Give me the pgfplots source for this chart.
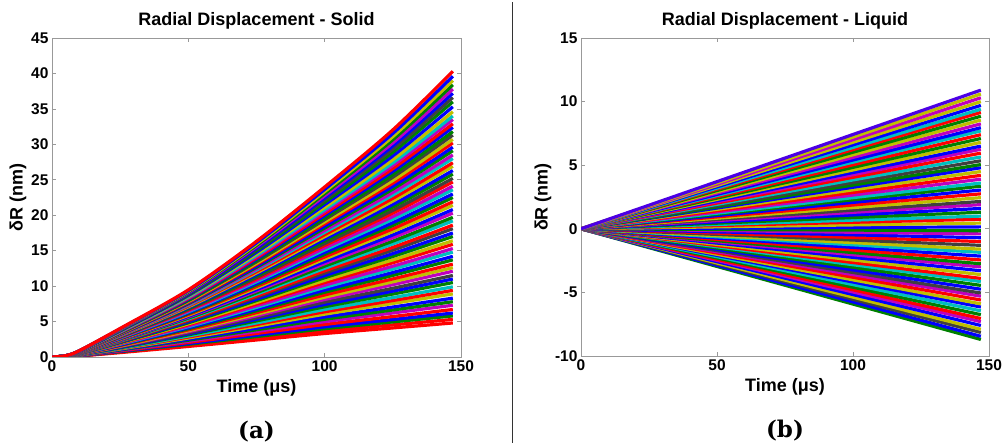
\documentclass[border=0pt]{standalone}
\usepackage{fontspec}
\usepackage{pgfplots}
\pgfplotsset{compat=1.18}
\newfontfamily\hv{Liberation Sans}
\newfontfamily\dvs{DejaVu Serif}
\definecolor{Mb}{rgb}{0,0,1}
\definecolor{Mg}{rgb}{0,0.5,0}
\definecolor{Mr}{rgb}{1,0,0}
\definecolor{Mc}{rgb}{0,0.75,0.75}
\definecolor{Mm}{rgb}{0.75,0,0.75}
\definecolor{My}{rgb}{0.75,0.75,0}
\definecolor{Mk}{rgb}{0.25,0.25,0.25}
\newcommand\panellabel[1]{{\dvs\bfseries\fontsize{23}{25}\selectfont#1}}
\pgfplotsset{
  mstyle/.style={
    scale only axis, anchor=south west,
    xmin=0, xmax=150, xtick={0,50,100,150},
    tick align=inside, major tick length=4pt,
    axis line style={gray!80}, tick style={gray!80, line width=0.6pt},
    ticklabel style={font=\hv\bfseries\fontsize{15.5}{16}\selectfont},
    /pgf/number format/assume math mode=true,
    label style={font=\hv\bfseries\fontsize{18}{20}\selectfont},
    xlabel style={at={(axis description cs:0.5,-0.097)}, anchor=center},
    every axis plot/.append style={line width=3.2pt, line join=round, no markers},
    clip mode=individual,
  }
}
\begin{document}
\begin{tikzpicture}[x=1pt,y=1pt]
\useasboundingbox (0,0) rectangle (1002,447);
% ---------------- Left panel ----------------
\begin{axis}[mstyle,
  at={(52pt,90pt)}, width=409pt, height=319pt,
  ymin=0, ymax=45, ytick={0,5,10,15,20,25,30,35,40,45},
  xlabel={Time (μs)}, ylabel={δR (nm)},
  ylabel style={at={(axis description cs:-0.083,0.5)}, anchor=center, rotate=0},
]
\addplot[Mr,smooth] coordinates {(0,0)(5,0.03)(10,0.14)(25,0.62)(50,1.49)(75,2.40)(100,3.31)(125,4.10)(147,4.8)};
\addplot[Mr,smooth] coordinates {(0,0)(5,0.03)(10,0.16)(25,0.69)(50,1.64)(75,2.64)(100,3.65)(125,4.53)(147,5.3)};
\addplot[Mg,smooth] coordinates {(0,0)(5,0.03)(10,0.17)(25,0.75)(50,1.79)(75,2.88)(100,3.99)(125,4.95)(147,5.8)};
\addplot[Mb,smooth] coordinates {(0,0)(5,0.04)(10,0.18)(25,0.80)(50,1.90)(75,3.08)(100,4.25)(125,5.29)(147,6.2)};
\addplot[Mr,smooth] coordinates {(0,0)(5,0.04)(10,0.20)(25,0.86)(50,2.05)(75,3.32)(100,4.59)(125,5.71)(147,6.7)};
\addplot[Mm,smooth] coordinates {(0,0)(5,0.04)(10,0.21)(25,0.93)(50,2.22)(75,3.60)(100,4.99)(125,6.21)(147,7.3)};
\addplot[Mg,smooth] coordinates {(0,0)(5,0.05)(10,0.23)(25,0.99)(50,2.37)(75,3.84)(100,5.32)(125,6.63)(147,7.8)};
\addplot[Mb,smooth] coordinates {(0,0)(5,0.05)(10,0.24)(25,1.05)(50,2.51)(75,4.07)(100,5.65)(125,7.05)(147,8.3)};
\addplot[My,smooth] coordinates {(0,0)(5,0.05)(10,0.26)(25,1.13)(50,2.68)(75,4.35)(100,6.04)(125,7.55)(147,8.9)};
\addplot[Mr,smooth] coordinates {(0,0)(5,0.05)(10,0.27)(25,1.19)(50,2.82)(75,4.58)(100,6.37)(125,7.96)(147,9.4)};
\addplot[Mc,smooth] coordinates {(0,0)(5,0.06)(10,0.29)(25,1.24)(50,2.96)(75,4.81)(100,6.70)(125,8.38)(147,9.9)};
\addplot[Mg,smooth] coordinates {(0,0)(5,0.06)(10,0.30)(25,1.31)(50,3.13)(75,5.09)(100,7.08)(125,8.88)(147,10.5)};
\addplot[Mb,smooth] coordinates {(0,0)(5,0.06)(10,0.31)(25,1.37)(50,3.27)(75,5.32)(100,7.41)(125,9.29)(147,11.0)};
\addplot[Mk,smooth] coordinates {(0,0)(5,0.07)(10,0.33)(25,1.43)(50,3.40)(75,5.54)(100,7.73)(125,9.70)(147,11.5)};
\addplot[Mm,smooth] coordinates {(0,0)(5,0.07)(10,0.34)(25,1.50)(50,3.56)(75,5.81)(100,8.11)(125,10.20)(147,12.1)};
\addplot[My,smooth] coordinates {(0,0)(5,0.07)(10,0.36)(25,1.55)(50,3.70)(75,6.04)(100,8.43)(125,10.61)(147,12.6)};
\addplot[Mr,smooth] coordinates {(0,0)(5,0.07)(10,0.37)(25,1.61)(50,3.83)(75,6.26)(100,8.75)(125,11.02)(147,13.1)};
\addplot[Mg,smooth] coordinates {(0,0)(5,0.08)(10,0.38)(25,1.68)(50,3.99)(75,6.52)(100,9.13)(125,11.51)(147,13.7)};
\addplot[Mb,smooth] coordinates {(0,0)(5,0.08)(10,0.40)(25,1.73)(50,4.12)(75,6.74)(100,9.44)(125,11.92)(147,14.2)};
\addplot[Mc,smooth] coordinates {(0,0)(5,0.08)(10,0.41)(25,1.80)(50,4.28)(75,7.00)(100,9.82)(125,12.40)(147,14.8)};
\addplot[Mm,smooth] coordinates {(0,0)(5,0.08)(10,0.42)(25,1.85)(50,4.40)(75,7.22)(100,10.13)(125,12.81)(147,15.3)};
\addplot[Mr,smooth] coordinates {(0,0)(5,0.09)(10,0.44)(25,1.92)(50,4.56)(75,7.48)(100,10.50)(125,13.30)(147,15.9)};
\addplot[My,smooth] coordinates {(0,0)(5,0.09)(10,0.45)(25,1.97)(50,4.68)(75,7.69)(100,10.81)(125,13.70)(147,16.4)};
\addplot[Mg,smooth] coordinates {(0,0)(5,0.09)(10,0.46)(25,2.03)(50,4.83)(75,7.95)(100,11.18)(125,14.18)(147,17.0)};
\addplot[Mb,smooth] coordinates {(0,0)(5,0.09)(10,0.47)(25,2.09)(50,4.96)(75,8.16)(100,11.48)(125,14.59)(147,17.5)};
\addplot[Mk,smooth] coordinates {(0,0)(5,0.10)(10,0.49)(25,2.15)(50,5.10)(75,8.41)(100,11.84)(125,15.07)(147,18.1)};
\addplot[Mr,smooth] coordinates {(0,0)(5,0.10)(10,0.50)(25,2.20)(50,5.22)(75,8.61)(100,12.15)(125,15.47)(147,18.6)};
\addplot[Mc,smooth] coordinates {(0,0)(5,0.10)(10,0.51)(25,2.26)(50,5.37)(75,8.86)(100,12.51)(125,15.95)(147,19.2)};
\addplot[Mg,smooth] coordinates {(0,0)(5,0.10)(10,0.52)(25,2.31)(50,5.49)(75,9.06)(100,12.81)(125,16.35)(147,19.7)};
\addplot[Mm,smooth] coordinates {(0,0)(5,0.11)(10,0.54)(25,2.37)(50,5.63)(75,9.31)(100,13.17)(125,16.82)(147,20.3)};
\addplot[Mb,smooth] coordinates {(0,0)(5,0.11)(10,0.55)(25,2.42)(50,5.74)(75,9.51)(100,13.46)(125,17.22)(147,20.8)};
\addplot[My,smooth] coordinates {(0,0)(5,0.11)(10,0.56)(25,2.48)(50,5.88)(75,9.75)(100,13.82)(125,17.70)(147,21.4)};
\addplot[Mr,smooth] coordinates {(0,0)(5,0.11)(10,0.57)(25,2.53)(50,6.00)(75,9.95)(100,14.11)(125,18.09)(147,21.9)};
\addplot[Mg,smooth] coordinates {(0,0)(5,0.12)(10,0.59)(25,2.59)(50,6.13)(75,10.18)(100,14.46)(125,18.56)(147,22.5)};
\addplot[Mb,smooth] coordinates {(0,0)(5,0.12)(10,0.60)(25,2.64)(50,6.25)(75,10.38)(100,14.75)(125,18.96)(147,23.0)};
\addplot[Mc,smooth] coordinates {(0,0)(5,0.12)(10,0.61)(25,2.69)(50,6.38)(75,10.61)(100,15.10)(125,19.43)(147,23.6)};
\addplot[Mm,smooth] coordinates {(0,0)(5,0.12)(10,0.62)(25,2.74)(50,6.49)(75,10.81)(100,15.38)(125,19.82)(147,24.1)};
\addplot[Mr,smooth] coordinates {(0,0)(5,0.13)(10,0.63)(25,2.80)(50,6.62)(75,11.03)(100,15.73)(125,20.29)(147,24.7)};
\addplot[Mk,smooth] coordinates {(0,0)(5,0.13)(10,0.64)(25,2.84)(50,6.73)(75,11.22)(100,16.01)(125,20.68)(147,25.2)};
\addplot[Mg,smooth] coordinates {(0,0)(5,0.13)(10,0.65)(25,2.90)(50,6.85)(75,11.45)(100,16.35)(125,21.14)(147,25.8)};
\addplot[Mb,smooth] coordinates {(0,0)(5,0.13)(10,0.66)(25,2.94)(50,6.96)(75,11.64)(100,16.63)(125,21.53)(147,26.3)};
\addplot[My,smooth] coordinates {(0,0)(5,0.13)(10,0.67)(25,2.99)(50,7.08)(75,11.86)(100,16.97)(125,21.99)(147,26.9)};
\addplot[Mr,smooth] coordinates {(0,0)(5,0.14)(10,0.68)(25,3.04)(50,7.19)(75,12.04)(100,17.25)(125,22.38)(147,27.4)};
\addplot[Mc,smooth] coordinates {(0,0)(5,0.14)(10,0.69)(25,3.09)(50,7.31)(75,12.26)(100,17.58)(125,22.84)(147,28.0)};
\addplot[Mm,smooth] coordinates {(0,0)(5,0.14)(10,0.70)(25,3.13)(50,7.41)(75,12.44)(100,17.86)(125,23.23)(147,28.5)};
\addplot[Mg,smooth] coordinates {(0,0)(5,0.14)(10,0.71)(25,3.19)(50,7.53)(75,12.66)(100,18.19)(125,23.69)(147,29.1)};
\addplot[Mb,smooth] coordinates {(0,0)(5,0.14)(10,0.72)(25,3.23)(50,7.63)(75,12.84)(100,18.46)(125,24.07)(147,29.6)};
\addplot[Mr,smooth] coordinates {(0,0)(5,0.15)(10,0.73)(25,3.28)(50,7.74)(75,13.05)(100,18.79)(125,24.52)(147,30.2)};
\addplot[My,smooth] coordinates {(0,0)(5,0.15)(10,0.74)(25,3.32)(50,7.84)(75,13.22)(100,19.06)(125,24.90)(147,30.7)};
\addplot[Mk,smooth] coordinates {(0,0)(5,0.15)(10,0.75)(25,3.37)(50,7.95)(75,13.43)(100,19.38)(125,25.36)(147,31.3)};
\addplot[Mg,smooth] coordinates {(0,0)(5,0.15)(10,0.76)(25,3.41)(50,8.04)(75,13.60)(100,19.64)(125,25.74)(147,31.8)};
\addplot[Mb,smooth] coordinates {(0,0)(5,0.15)(10,0.77)(25,3.46)(50,8.15)(75,13.81)(100,19.96)(125,26.19)(147,32.4)};
\addplot[Mr,smooth] coordinates {(0,0)(5,0.16)(10,0.78)(25,3.50)(50,8.25)(75,13.98)(100,20.23)(125,26.57)(147,32.9)};
\addplot[Mm,smooth] coordinates {(0,0)(5,0.16)(10,0.79)(25,3.54)(50,8.35)(75,14.18)(100,20.54)(125,27.02)(147,33.5)};
\addplot[Mc,smooth] coordinates {(0,0)(5,0.16)(10,0.80)(25,3.58)(50,8.44)(75,14.34)(100,20.80)(125,27.39)(147,34.0)};
\addplot[My,smooth] coordinates {(0,0)(5,0.16)(10,0.81)(25,3.63)(50,8.55)(75,14.54)(100,21.11)(125,27.84)(147,34.6)};
\addplot[Mb,smooth] coordinates {(0,0)(5,0.16)(10,0.82)(25,3.68)(50,8.67)(75,14.77)(100,21.48)(125,28.36)(147,35.3)};
\addplot[Mg,smooth] coordinates {(0,0)(5,0.17)(10,0.83)(25,3.73)(50,8.79)(75,14.99)(100,21.83)(125,28.88)(147,36.0)};
\addplot[Mk,smooth] coordinates {(0,0)(5,0.17)(10,0.84)(25,3.77)(50,8.89)(75,15.19)(100,22.14)(125,29.33)(147,36.6)};
\addplot[Mb,smooth] coordinates {(0,0)(5,0.17)(10,0.84)(25,3.82)(50,8.99)(75,15.37)(100,22.44)(125,29.77)(147,37.2)};
\addplot[Mm,smooth] coordinates {(0,0)(5,0.17)(10,0.85)(25,3.86)(50,9.08)(75,15.56)(100,22.74)(125,30.21)(147,37.8)};
\addplot[Mg,smooth] coordinates {(0,0)(5,0.17)(10,0.86)(25,3.90)(50,9.18)(75,15.75)(100,23.04)(125,30.65)(147,38.4)};
\addplot[My,smooth] coordinates {(0,0)(5,0.17)(10,0.87)(25,3.94)(50,9.27)(75,15.93)(100,23.34)(125,31.09)(147,39.0)};
\addplot[Mb,smooth] coordinates {(0,0)(5,0.18)(10,0.88)(25,3.98)(50,9.36)(75,16.11)(100,23.64)(125,31.53)(147,39.6)};
\addplot[Mr,smooth] coordinates {(0,0)(5,0.18)(10,0.89)(25,4.03)(50,9.47)(75,16.32)(100,23.98)(125,32.04)(147,40.3)};
\node[font=\hv\bfseries\fontsize{18}{20}\selectfont, anchor=center] at (axis description cs:0.5,1.054) {Radial Displacement - Solid};
\node[anchor=center] at (axis description cs:0.5,-0.235) {\panellabel{(a)}};
\end{axis}
% ---------------- Right panel ----------------
\begin{axis}[mstyle,
  at={(581pt,91pt)}, width=408pt, height=318pt,
  ymin=-10, ymax=15, ytick={-10,-5,0,5,10,15},
  xlabel={Time (μs)}, ylabel={δR (nm)},
  ylabel style={at={(axis description cs:-0.093,0.5)}, anchor=center, rotate=0},
]
\addplot[Mg] coordinates {(0,0)(147,-8.70)};
\addplot[Mb] coordinates {(0,0)(147,-8.45)};
\addplot[Mk] coordinates {(0,0)(147,-8.15)};
\addplot[My] coordinates {(0,0)(147,-7.90)};
\addplot[Mb] coordinates {(0,0)(147,-7.60)};
\addplot[Mm] coordinates {(0,0)(147,-7.30)};
\addplot[Mr] coordinates {(0,0)(147,-7.05)};
\addplot[Mg] coordinates {(0,0)(147,-6.75)};
\addplot[Mc] coordinates {(0,0)(147,-6.45)};
\addplot[Mb] coordinates {(0,0)(147,-6.15)};
\addplot[My] coordinates {(0,0)(147,-5.90)};
\addplot[Mr] coordinates {(0,0)(147,-5.60)};
\addplot[Mm] coordinates {(0,0)(147,-5.30)};
\addplot[Mk] coordinates {(0,0)(147,-5.05)};
\addplot[Mb] coordinates {(0,0)(147,-4.75)};
\addplot[Mg] coordinates {(0,0)(147,-4.45)};
\addplot[Mc] coordinates {(0,0)(147,-4.15)};
\addplot[Mr] coordinates {(0,0)(147,-3.90)};
\addplot[My] coordinates {(0,0)(147,-3.60)};
\addplot[Mb] coordinates {(0,0)(147,-3.30)};
\addplot[Mm] coordinates {(0,0)(147,-3.00)};
\addplot[Mg] coordinates {(0,0)(147,-2.75)};
\addplot[Mr] coordinates {(0,0)(147,-2.45)};
\addplot[Mb] coordinates {(0,0)(147,-2.15)};
\addplot[Mc] coordinates {(0,0)(147,-1.85)};
\addplot[My] coordinates {(0,0)(147,-1.60)};
\addplot[Mk] coordinates {(0,0)(147,-1.30)};
\addplot[Mr] coordinates {(0,0)(147,-1.00)};
\addplot[Mb] coordinates {(0,0)(147,-0.70)};
\addplot[Mm] coordinates {(0,0)(147,-0.40)};
\addplot[Mg] coordinates {(0,0)(147,-0.15)};
\addplot[Mb] coordinates {(0,0)(147,0.15)};
\addplot[My] coordinates {(0,0)(147,0.45)};
\addplot[Mr] coordinates {(0,0)(147,0.75)};
\addplot[Mc] coordinates {(0,0)(147,1.00)};
\addplot[Mg] coordinates {(0,0)(147,1.30)};
\addplot[Mb] coordinates {(0,0)(147,1.60)};
\addplot[Mm] coordinates {(0,0)(147,1.90)};
\addplot[Mk] coordinates {(0,0)(147,2.15)};
\addplot[My] coordinates {(0,0)(147,2.45)};
\addplot[Mr] coordinates {(0,0)(147,2.75)};
\addplot[Mb] coordinates {(0,0)(147,3.05)};
\addplot[Mg] coordinates {(0,0)(147,3.35)};
\addplot[Mc] coordinates {(0,0)(147,3.60)};
\addplot[Mm] coordinates {(0,0)(147,3.90)};
\addplot[Mr] coordinates {(0,0)(147,4.20)};
\addplot[My] coordinates {(0,0)(147,4.50)};
\addplot[Mb] coordinates {(0,0)(147,4.80)};
\addplot[Mg] coordinates {(0,0)(147,5.05)};
\addplot[Mk] coordinates {(0,0)(147,5.35)};
\addplot[Mc] coordinates {(0,0)(147,5.65)};
\addplot[Mr] coordinates {(0,0)(147,5.95)};
\addplot[Mm] coordinates {(0,0)(147,6.25)};
\addplot[Mb] coordinates {(0,0)(147,6.50)};
\addplot[My] coordinates {(0,0)(147,6.80)};
\addplot[Mg] coordinates {(0,0)(147,7.10)};
\addplot[Mr] coordinates {(0,0)(147,7.40)};
\addplot[Mc] coordinates {(0,0)(147,7.70)};
\addplot[Mb] coordinates {(0,0)(147,7.95)};
\addplot[Mm] coordinates {(0,0)(147,8.25)};
\addplot[My] coordinates {(0,0)(147,8.55)};
\addplot[Mg] coordinates {(0,0)(147,8.85)};
\addplot[Mr] coordinates {(0,0)(147,9.15)};
\addplot[Mc] coordinates {(0,0)(147,9.40)};
\addplot[Mb] coordinates {(0,0)(147,9.70)};
\addplot[My] coordinates {(0,0)(147,10.00)};
\addplot[Mm] coordinates {(0,0)(147,10.30)};
\addplot[My] coordinates {(0,0)(147,10.60)};
\addplot[Mb!60!Mm] coordinates {(0,0)(147,10.90)};
\node[font=\hv\bfseries\fontsize{18}{20}\selectfont, anchor=center] at (axis description cs:0.5,1.054) {Radial Displacement - Liquid};
\node[anchor=center] at (axis description cs:0.5,-0.236) {\panellabel{(b)}};
\end{axis}
% separator
\draw[line width=1pt, black!80] (512,4) -- (512,445);
\end{tikzpicture}
\end{document}
